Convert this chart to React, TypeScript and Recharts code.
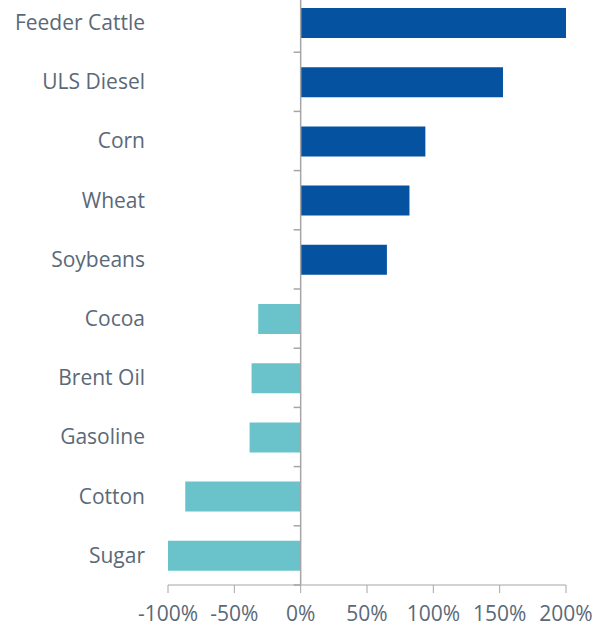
import React from 'react'
import { BarChart, Bar, Cell, XAxis, YAxis, ReferenceLine } from 'recharts'

const commodities = [
  'Feeder Cattle',
  'ULS Diesel',
  'Corn',
  'Wheat',
  'Soybeans',
  'Cocoa',
  'Brent Oil',
  'Gasoline',
  'Cotton',
  'Sugar',
]
const changes = [200, 152.5, 94, 82, 65, -32, -37, -38.5, -87, -100]
const xTicks = [-100, -50, 0, 50, 100, 150, 200]

const data = commodities.map((name, i) => ({ name, value: changes[i] }))

const AXIS_GREY = '#a6a6a6'
const TEXT = '#5a6978'
const FONT = '"Open Sans", sans-serif'

function ZeroAxis(props: any) {
  const { x1, y1, x2, y2 } = props
  const n = commodities.length
  const marks = []
  for (let i = 0; i <= n; i++) {
    const y = y1 + ((y2 - y1) * i) / n
    marks.push(<line key={i} x1={x1 - 7} x2={x1} y1={y} y2={y} stroke={AXIS_GREY} strokeWidth={1.5} />)
  }
  return (
    <g>
      <line x1={x1} y1={y1} x2={x2} y2={y2} stroke={AXIS_GREY} strokeWidth={1.5} />
      {marks}
    </g>
  )
}

export default function App() {
  return (
    <div style={{ position: 'absolute', top: -7, left: 0 }}>
      <BarChart
        width={598}
        height={635}
        data={data}
        layout="vertical"
        margin={{ top: 0, right: 32, bottom: 0, left: 0 }}
        barSize={30}
      >
        <XAxis
          type="number"
          domain={[-100, 200]}
          ticks={xTicks}
          tickFormatter={(v) => `${v}%`}
          height={43}
          stroke={AXIS_GREY}
          tickSize={8}
          tickMargin={13}
          tick={{ fill: TEXT, fontSize: 21, fontFamily: FONT }}
          interval={0}
        />
        <YAxis
          type="category"
          dataKey="name"
          width={168}
          axisLine={false}
          tickLine={false}
          tickSize={6}
          tickMargin={17}
          tick={{ fill: TEXT, fontSize: 21, fontFamily: FONT }}
          interval={0}
        />
        <Bar dataKey="value" isAnimationActive={false}>
          {data.map((d, i) => (
            <Cell key={i} fill={d.value >= 0 ? '#0552a1' : '#6ac3cb'} />
          ))}
        </Bar>
        <ReferenceLine x={0} shape={ZeroAxis} />
      </BarChart>
    </div>
  )
}
